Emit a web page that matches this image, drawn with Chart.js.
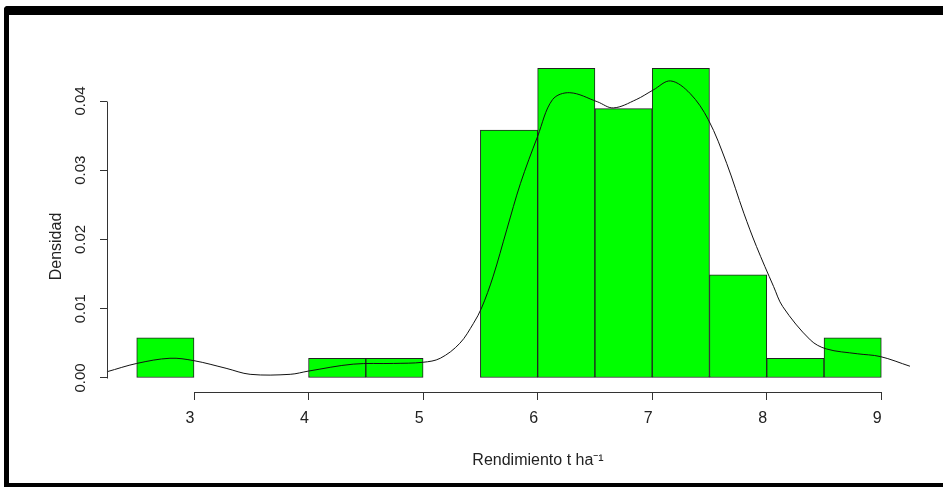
<!DOCTYPE html>
<html>
<head>
<meta charset="utf-8">
<script src="https://cdn.jsdelivr.net/npm/chart.js@4/dist/chart.umd.min.js"></script>
<style>
  html, body { margin: 0; padding: 0; background: #fff; }
  #page { position: relative; width: 943px; height: 487px; overflow: hidden; }
  .bar { position: absolute; background: #000; }
  #frameTop { left: 4px; top: 6px; width: 939px; height: 9px; border-top-left-radius: 4px; }
  #frameLeft { left: 4px; top: 6px; width: 5px; height: 481px; border-top-left-radius: 4px; }
  #frameBottom { left: 4px; top: 483px; width: 939px; height: 4px; }
  #chart { position: absolute; left: 0; top: 0; }
</style>
</head>
<body>
<div id="page">
  <div class="bar" id="frameTop"></div>
  <div class="bar" id="frameLeft"></div>
  <div class="bar" id="frameBottom"></div>
  <canvas id="chart" width="1000" height="487"></canvas>
</div>
<script>
// histogram bins (left edges, width 0.5) and densities
const binStart = [2.5, 3.0, 3.5, 4.0, 4.5, 5.0, 5.5, 6.0, 6.5, 7.0, 7.5, 8.0, 8.5];
const binDensity = [0.0058, 0, 0, 0.00285, 0.00285, 0, 0.0358, 0.0447, 0.0389, 0.0447, 0.0149, 0.00285, 0.0058];
const binWidth = 0.5;

// kernel density curve
const curveX = [2.24, 2.50, 2.79, 3.00, 3.28, 3.49, 3.84, 4.00, 4.39, 4.74, 5.00, 5.15, 5.32, 5.44, 5.51, 5.61, 5.73, 5.85, 6.00, 6.13, 6.28, 6.52, 6.66, 6.86, 7.01, 7.16, 7.33, 7.49, 7.65, 7.80, 7.91, 8.06, 8.14, 8.38, 8.52, 8.79, 8.99, 9.25];
const curveY = [0.0009, 0.0021, 0.00285, 0.0025, 0.0014, 0.00053, 0.00053, 0.0010, 0.0020, 0.0021, 0.00227, 0.00285, 0.0050, 0.0079, 0.0101, 0.0146, 0.0214, 0.0281, 0.0349, 0.0402, 0.0412, 0.0399, 0.0390, 0.0402, 0.0416, 0.0429, 0.0411, 0.0373, 0.0310, 0.0238, 0.0190, 0.0132, 0.0103, 0.0055, 0.0042, 0.0035, 0.0031, 0.0017];

const xTicks = [3, 4, 5, 6, 7, 8, 9];
const yTicks = [0, 0.01, 0.02, 0.03, 0.04];

const axisColor = '#333';
const fontFamily = "'Liberation Sans', Arial, sans-serif";

// R style axis lines running only from first to last tick
const rAxes = {
  id: 'rAxes',
  afterDraw(chart) {
    const {ctx, scales: {x, y}} = chart;
    ctx.save();
    ctx.strokeStyle = axisColor;
    ctx.lineWidth = 1;
    ctx.beginPath();
    const yb = Math.round(x.top) + 0.5;
    ctx.moveTo(Math.round(x.getPixelForValue(xTicks[0])) + 0.5, yb);
    ctx.lineTo(Math.round(x.getPixelForValue(xTicks[xTicks.length - 1])) + 0.5, yb);
    const xl = Math.round(y.right) + 0.5;
    ctx.moveTo(xl, Math.round(y.getPixelForValue(yTicks[0])) + 0.5);
    ctx.lineTo(xl, Math.round(y.getPixelForValue(yTicks[yTicks.length - 1])) + 0.5);
    ctx.stroke();
    ctx.restore();
  }
};

const barData = binStart
  .map((s, i) => ({x: s + binWidth / 2, y: binDensity[i]}))
  .filter(p => p.y > 0);
const curveData = curveX.map((v, i) => ({x: v, y: curveY[i]}));

new Chart(document.getElementById('chart'), {
  type: 'bar',
  data: {
    datasets: [
      {
        type: 'line',
        data: curveData,
        borderColor: '#111',
        borderWidth: 1,
        pointRadius: 0,
        tension: 0.35,
        fill: false,
        clip: false,
        order: 0
      },
      {
        type: 'bar',
        data: barData,
        backgroundColor: '#00ff00',
        borderColor: '#222',
        borderWidth: 1,
        borderSkipped: false,
        barPercentage: 1,
        categoryPercentage: 1,
        clip: false,
        order: 1
      }
    ]
  },
  options: {
    responsive: false,
    animation: false,
    layout: { padding: { top: 101, right: 31, left: 0, bottom: 0 } },
    plugins: { legend: { display: false }, tooltip: { enabled: false } },
    scales: {
      x: {
        type: 'linear',
        min: 2.2405,
        max: 9.7656,
        offset: false,
        afterFit: s => { s.height = 95; },
        afterBuildTicks: s => { s.ticks = xTicks.map(v => ({value: v})); },
        border: { display: false },
        grid: { offset: false, drawOnChartArea: false, drawTicks: true, tickLength: 8, color: axisColor },
        ticks: {
          autoSkip: false, maxRotation: 0, padding: 9, labelOffset: -4, color: '#222',
          font: { family: fontFamily, size: 16 }
        },
        title: {
          display: true,
          text: 'Rendimiento t ha\u207B\u00B9',
          color: '#222',
          padding: { top: 0, bottom: 17 },
          font: { family: fontFamily, size: 16 }
        }
      },
      y: {
        min: -0.002023,
        max: 0.04,
        afterFit: s => { s.width = 107; },
        afterBuildTicks: s => { s.ticks = yTicks.map(v => ({value: v})); },
        border: { display: false },
        grid: { drawOnChartArea: false, drawTicks: true, tickLength: 7, color: axisColor },
        ticks: {
          minRotation: 90, maxRotation: 90, crossAlign: 'center', padding: 5, color: '#222',
          callback: v => v.toFixed(2),
          font: { family: fontFamily, size: 15 }
        },
        title: {
          display: true,
          text: 'Densidad',
          color: '#222',
          padding: { top: 47, bottom: 0 },
          font: { family: fontFamily, size: 16 }
        }
      }
    }
  },
  plugins: [rAxes]
});
</script>
</body>
</html>
